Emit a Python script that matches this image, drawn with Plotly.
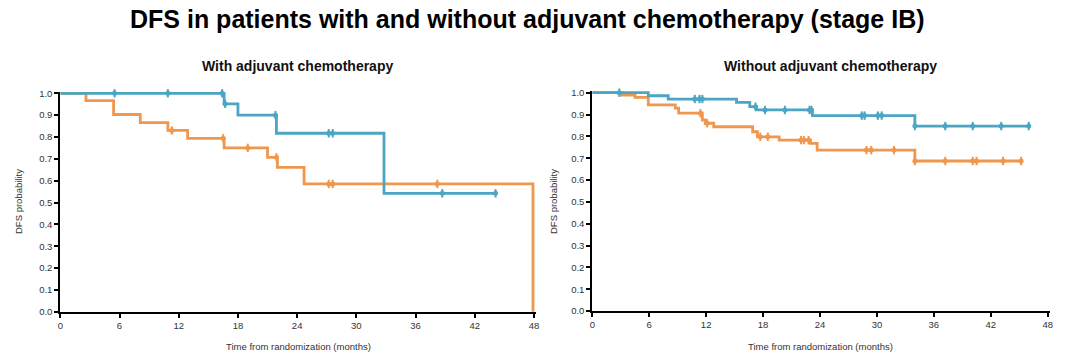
import plotly.graph_objects as go

# ---------------- data ----------------
# Left panel: with adjuvant chemotherapy
L_blue_t = [0, 16.6, 18.0, 21.9, 32.8, 44.1]
L_blue_s = [1.0, 0.952, 0.900, 0.817, 0.542, 0.542]
L_blue_c = [5.5, 10.9, 16.4, 16.7, 21.8, 27.2, 27.6, 38.7, 44.1]

L_orng_t = [0, 2.6, 5.4, 8.1, 10.9, 12.9, 16.6, 21.0, 22.0, 24.7, 47.9]
L_orng_s = [1.0, 0.966, 0.903, 0.866, 0.830, 0.794, 0.750, 0.707, 0.661, 0.585, 0.0]
L_orng_c = [11.3, 16.5, 19.0, 21.9, 27.2, 27.6, 38.2]

# Right panel: without adjuvant chemotherapy
R_blue_t = [0, 5.9, 8.0, 15.2, 16.6, 17.3, 23.2, 34.0, 46.0]
R_blue_s = [1.0, 0.986, 0.971, 0.956, 0.936, 0.921, 0.895, 0.847, 0.847]
R_blue_c = [2.85, 10.8, 11.3, 11.6, 17.2, 18.2, 20.3, 22.9, 23.1, 28.4, 28.7,
            30.1, 30.5, 34.0, 37.2, 40.1, 43.1, 46.0]

R_orng_t = [0, 3.1, 4.5, 5.9, 8.75, 9.1, 11.6, 11.9, 12.8, 16.9, 17.4, 19.7,
            23.0, 23.7, 34.0, 45.2]
R_orng_s = [1.0, 0.989, 0.979, 0.944, 0.929, 0.906, 0.875, 0.860, 0.844, 0.821,
            0.798, 0.783, 0.768, 0.737, 0.687, 0.687]
R_orng_c = [11.4, 12.1, 17.7, 18.5, 22.0, 22.3, 22.8, 28.9, 29.4, 31.8, 34.0,
            37.2, 40.1, 40.5, 43.3, 45.2]

x_ticks = [0, 6, 12, 18, 24, 30, 36, 42, 48]
y_ticks = [0.0, 0.1, 0.2, 0.3, 0.4, 0.5, 0.6, 0.7, 0.8, 0.9, 1.0]

TITLE = "DFS in patients with and without adjuvant chemotherapy (stage IB)"
SUB_L = "With adjuvant chemotherapy"
SUB_R = "Without adjuvant chemotherapy"
X_TITLE = "Time from randomization (months)"
Y_TITLE = "DFS probability"

BLUE = "#4BA5C3"
ORANGE = "#F0974E"
FONT = "Liberation Sans"


def step_value(times, surv, t):
    v = surv[0]
    for ti, si in zip(times, surv):
        if ti <= t:
            v = si
    return v


fig = go.Figure()


def add_curve(times, surv, cens, color, xa, ya):
    fig.add_trace(go.Scatter(x=times, y=surv, mode="lines", line_shape="hv",
                             line=dict(color=color, width=2.8),
                             xaxis=xa, yaxis=ya, showlegend=False,
                             hoverinfo="skip"))
    cy = [step_value(times, surv, c) for c in cens]
    fig.add_trace(go.Scatter(x=cens, y=cy, mode="markers", cliponaxis=False,
                             marker=dict(symbol="line-ns", size=6,
                                         line=dict(color=color, width=2)),
                             xaxis=xa, yaxis=ya, showlegend=False,
                             hoverinfo="skip"))
    fig.add_trace(go.Scatter(x=cens, y=cy, mode="markers", cliponaxis=False,
                             marker=dict(symbol="circle", size=5, color=color),
                             xaxis=xa, yaxis=ya, showlegend=False,
                             hoverinfo="skip"))


add_curve(L_orng_t + [48], L_orng_s + [0.0], L_orng_c, ORANGE, "x", "y")
add_curve(L_blue_t, L_blue_s, L_blue_c, BLUE, "x", "y")
add_curve(R_orng_t, R_orng_s, R_orng_c, ORANGE, "x2", "y2")
add_curve(R_blue_t, R_blue_s, R_blue_c, BLUE, "x2", "y2")

W, H = 1080, 358
XMAX, YMAX = 48.25, 1.008

axis_common = dict(showgrid=False, zeroline=False, showline=True,
                   linecolor="black", linewidth=2, ticks="outside",
                   ticklen=4, tickwidth=2, tickcolor="black", automargin=False,
                   tickfont=dict(family=FONT, size=9.5, color="#333"))


def xdom(x0, x48):
    return [x0 / W, (x0 + (x48 - x0) * XMAX / 48) / W]


def ydom(y0, y1):
    return [(H - y0) / H, (H - (y0 - (y0 - y1) * YMAX)) / H]


fig.update_layout(
    width=W, height=H,
    margin=dict(l=0, r=0, t=0, b=0),
    paper_bgcolor="white", plot_bgcolor="white",
    xaxis=dict(domain=xdom(60.3, 534), range=[0, XMAX], tickvals=x_ticks,
               anchor="y", **axis_common),
    yaxis=dict(domain=ydom(311.7, 93.3), range=[0, YMAX],
               tickvals=y_ticks, tickformat=".1f", anchor="x", **axis_common),
    xaxis2=dict(domain=xdom(592.3, 1047.7), range=[0, XMAX], tickvals=x_ticks,
                anchor="y2", **axis_common),
    yaxis2=dict(domain=ydom(311, 92.7), range=[0, YMAX],
                tickvals=y_ticks, tickformat=".1f", anchor="x2", **axis_common),
)

ann = [
    dict(text="<b>" + TITLE + "</b>", x=527 / W, y=(H - 19) / H,
         font=dict(family=FONT, size=25, color="black")),
    dict(text="<b>" + SUB_L + "</b>", x=297 / W, y=(H - 66) / H,
         font=dict(family=FONT, size=14, color="#111")),
    dict(text="<b>" + SUB_R + "</b>", x=830 / W, y=(H - 66) / H,
         font=dict(family=FONT, size=14, color="#111")),
    dict(text=X_TITLE, x=298 / W, y=(H - 346) / H,
         font=dict(family=FONT, size=9.5, color="#333")),
    dict(text=X_TITLE, x=820 / W, y=(H - 346) / H,
         font=dict(family=FONT, size=9.5, color="#333")),
    dict(text=Y_TITLE, x=18 / W, y=(H - 202) / H, textangle=-90,
         font=dict(family=FONT, size=9.5, color="#333")),
    dict(text=Y_TITLE, x=553 / W, y=(H - 202) / H, textangle=-90,
         font=dict(family=FONT, size=9.5, color="#333")),
]
for a in ann:
    a.update(xref="paper", yref="paper", showarrow=False,
             xanchor="center", yanchor="middle")
fig.update_layout(annotations=ann)

fig.write_html("out.html", config={"displayModeBar": False},
               post_script="document.body.style.margin='0';"
                           "document.body.style.overflow='hidden';")
